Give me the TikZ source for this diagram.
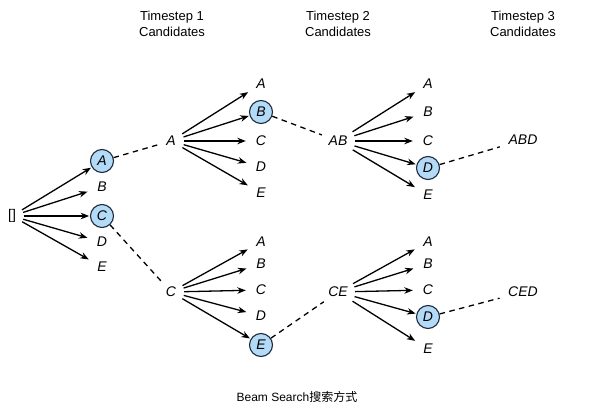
\documentclass[tikz,border=0pt]{standalone}
\usepackage{fontspec}
\setmainfont{Liberation Sans}
\newfontfamily\cjk{Noto Sans CJK SC}
\usetikzlibrary{arrows.meta}
\definecolor{selfill}{HTML}{B3DAF7}
\definecolor{seldraw}{HTML}{1E2B3C}
\tikzset{
  lbl/.style={circle, inner sep=0pt, minimum size=30pt, font=\itshape\fontsize{14}{14}\selectfont},
  sel/.style={circle, inner sep=0pt, minimum size=23pt, draw=seldraw, line width=1.1pt, fill=selfill, font=\itshape\fontsize{14}{14}\selectfont},
  src/.style={circle, inner sep=0pt, minimum size=#1, font=\itshape\fontsize{14}{14}\selectfont},
  arr/.style={-{Stealth[length=8.5pt,width=6.5pt]}, line width=1.3pt, black},
  arrsel/.style={arr, shorten >=0.8pt},
  dsh/.style={line width=1.3pt, dash pattern=on 5.5pt off 4.5pt},
  head/.style={align=center, font=\fontsize{13}{16}\selectfont},
}
\begin{document}
\begin{tikzpicture}[x=1pt,y=-1pt]
\useasboundingbox (0,0) rectangle (610,411);
% headers
\node[head] (h1) at (172,24) {Timestep 1\\Candidates};
\node[head] (h2) at (338,24) {Timestep 2\\Candidates};
\node[head] (h3) at (523,24) {Timestep 3\\Candidates};
% root
\node[src=23pt, font=\fontsize{14}{14}\selectfont] (r) at (12,216) {[]};
% level 1
\node[sel] (a1) at (102,161) {A};
\node[lbl] (b1) at (102,187) {B};
\node[sel] (c1) at (102,216) {C};
\node[lbl] (d1) at (102,242) {D};
\node[lbl] (e1) at (102,267) {E};
\draw[arrsel] (r) -- (a1);
\draw[arr] (r) -- (b1);
\draw[arrsel] (r) -- (c1);
\draw[arr] (r) -- (d1);
\draw[arr] (r) -- (e1);
% timestep 1 candidates
\node[src=26pt] (A) at (171,141) {A};
\node[src=26pt] (C) at (171,292) {C};
\draw[dsh] (a1) -- (A);
\draw[dsh] (c1) -- (C);
% level 2 top
\node[lbl] (aa) at (261,84) {A};
\node[sel] (ab) at (261,112) {B};
\node[lbl] (ac) at (261,141) {C};
\node[lbl] (ad) at (261,167) {D};
\node[lbl] (ae) at (261,193) {E};
\draw[arr] (A) -- (aa);
\draw[arrsel] (A) -- (ab);
\draw[arr] (A) -- (ac);
\draw[arr] (A) -- (ad);
\draw[arr] (A) -- (ae);
% level 2 bottom
\node[lbl] (ca) at (261,242) {A};
\node[lbl] (cb) at (261,264) {B};
\node[lbl] (cc) at (261,290) {C};
\node[lbl] (cd) at (261,316) {D};
\node[sel] (ce) at (261,345) {E};
\draw[arr] (C) -- (ca);
\draw[arr] (C) -- (cb);
\draw[arr] (C) -- (cc);
\draw[arr] (C) -- (cd);
\draw[arrsel] (C) -- (ce);
% timestep 2 candidates
\node[src=34pt] (AB) at (338,141) {AB};
\node[src=34pt] (CE) at (338,292) {CE};
\draw[dsh] (ab) -- (AB);
\draw[dsh] (ce) -- (CE);
% level 3 top
\node[lbl] (aba) at (428,84) {A};
\node[lbl] (abb) at (428,112) {B};
\node[lbl] (abc) at (428,141) {C};
\node[sel] (abd) at (428,168) {D};
\node[lbl] (abe) at (428,195) {E};
\draw[arr] (AB) -- (aba);
\draw[arr] (AB) -- (abb);
\draw[arr] (AB) -- (abc);
\draw[arrsel] (AB) -- (abd);
\draw[arr] (AB) -- (abe);
% level 3 bottom
\node[lbl] (cea) at (428,242) {A};
\node[lbl] (ceb) at (428,264) {B};
\node[lbl] (cec) at (428,290) {C};
\node[sel] (ced) at (428,317) {D};
\node[lbl] (cee) at (428,349) {E};
\draw[arr] (CE) -- (cea);
\draw[arr] (CE) -- (ceb);
\draw[arr] (CE) -- (cec);
\draw[arrsel] (CE) -- (ced);
\draw[arr] (CE) -- (cee);
% timestep 3 candidates
\node[src=48pt] (ABD) at (523,140) {ABD};
\node[src=48pt] (CED) at (523,292) {CED};
\draw[dsh] (abd) -- (ABD);
\draw[dsh] (ced) -- (CED);
% caption
\node[font=\fontsize{12}{13}\selectfont] (cap) at (297,397) {Beam Search{\cjk 搜索方式}};
\end{tikzpicture}
\end{document}
